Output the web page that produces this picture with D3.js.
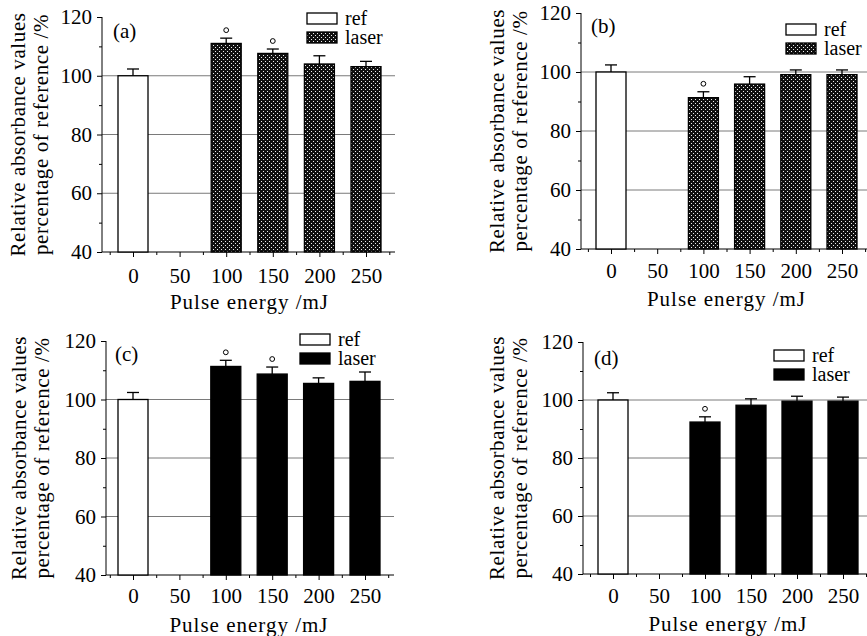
<!DOCTYPE html>
<html>
<head>
<meta charset="utf-8">
<script src="https://cdn.jsdelivr.net/npm/d3@7"></script>
<style>
  body { margin: 0; background: #fff; }
  svg { display: block; font-family: "Liberation Serif", "Times New Roman", serif; }
  .tick line { stroke: #000; }
</style>
</head>
<body>
<svg id="chart" width="867" height="636"></svg>
<script>
// Data
var categories = ['0', '50', '100', '150', '200', '250'];
var seriesNames = ['ref', 'laser'];
var yTicks = [40, 60, 80, 100, 120];
var yMinorTicks = [50, 70, 90, 110];
var gridValues = [60, 80, 100];

// mean value per pulse energy (null = no bar), upper error, significance
var meanA = [100, null, 111.0, 107.6, 104.0, 103.1];
var errA = [2.3, null, 1.8, 1.5, 2.8, 1.8];
var sigA = [0, 0, 1, 1, 0, 0];

var meanB = [100, null, 91.3, 95.9, 99.1, 99.1];
var errB = [2.4, null, 2.0, 2.5, 1.6, 1.6];
var sigB = [0, 0, 1, 0, 0, 0];

var meanC = [100, null, 111.3, 108.7, 105.5, 106.2];
var errC = [2.4, null, 2.1, 2.4, 1.9, 3.2];
var sigC = [0, 0, 1, 1, 0, 0];

var meanD = [100, null, 92.4, 98.2, 99.6, 99.6];
var errD = [2.5, null, 1.8, 2.2, 1.7, 1.4];
var sigD = [0, 0, 1, 0, 0, 0];

var serif = '"Liberation Serif", "Times New Roman", serif';

// Panel layout (pixels)
var panels = [
    {tag: '(a)', mean: meanA, err: errA, sig: sigA, fill: 'url(#dots)',
     axisX: 102, axisEnd: 395, y40: 252, y120: 17, x0: 133, x5: 366,
     labelY: 283, titleY: 309, yl1: 25, yl2: 48, tagX: 113, tagY: 38,
     legX: 307, legY: 13},
    {tag: '(b)', mean: meanB, err: errB, sig: sigB, fill: 'url(#dots)',
     axisX: 581, axisEnd: 870, y40: 249, y120: 13, x0: 611, x5: 842,
     labelY: 278, titleY: 306, yl1: 504, yl2: 527, tagX: 591, tagY: 33,
     legX: 786, legY: 24},
    {tag: '(c)', mean: meanC, err: errC, sig: sigC, fill: '#000',
     axisX: 106, axisEnd: 394, y40: 575, y120: 341, x0: 133, x5: 365,
     labelY: 603, titleY: 632, yl1: 26, yl2: 49, tagX: 115, tagY: 361,
     legX: 300, legY: 334},
    {tag: '(d)', mean: meanD, err: errD, sig: sigD, fill: '#000',
     axisX: 583, axisEnd: 870, y40: 574, y120: 342, x0: 613, x5: 843,
     labelY: 603, titleY: 631, yl1: 504, yl2: 527, tagX: 594, tagY: 365,
     legX: 774, legY: 350}
];

var svg = d3.select('#chart');

// dotted fill used by the laser bars in (a) and (b)
var pat = svg.append('defs').append('pattern')
    .attr('id', 'dots')
    .attr('patternUnits', 'userSpaceOnUse')
    .attr('width', 4).attr('height', 4);
pat.append('rect').attr('width', 4).attr('height', 4).attr('fill', '#111');
pat.append('rect').attr('x', 1).attr('y', 1).attr('width', 1).attr('height', 1).attr('fill', '#eee');
pat.append('rect').attr('x', 3).attr('y', 3).attr('width', 1).attr('height', 1).attr('fill', '#eee');

var barWidth = 30;

// d3 axes put a sans-serif font on their group; use the figure's serif
var styleAxis = function(axisG) {
    axisG.attr('font-family', null).attr('font-size', null);
    axisG.select('.domain').remove();
    axisG.selectAll('.tick text')
        .style('font-family', serif)
        .style('font-size', '21px')
        .attr('fill', '#000');
};

var drawPanel = function(p) {
    var g = svg.append('g');
    var x = d3.scaleLinear().domain([0, categories.length - 1]).range([p.x0, p.x5]);
    var y = d3.scaleLinear().domain([40, 120]).range([p.y40, p.y120]);

    // horizontal reference lines
    g.selectAll('.grid')
        .data(gridValues)
        .enter().append('line')
            .attr('x1', p.axisX).attr('x2', p.axisEnd)
            .attr('y1', function(d) { return y(d); })
            .attr('y2', function(d) { return y(d); })
            .attr('stroke', '#7a7a7a')
            .attr('stroke-width', 1);

    // y axis
    g.append('g')
        .attr('transform', 'translate(' + p.axisX + ',0)')
        .call(d3.axisLeft(y).tickValues(yTicks).tickSize(5).tickPadding(5))
        .call(styleAxis);
    g.append('g')
        .attr('transform', 'translate(' + p.axisX + ',0)')
        .call(d3.axisLeft(y).tickValues(yMinorTicks).tickSize(3).tickFormat(''))
        .call(styleAxis);
    g.append('line')
        .attr('x1', p.axisX).attr('x2', p.axisX)
        .attr('y1', y(40)).attr('y2', y(120))
        .attr('stroke', '#000');

    // x axis
    var idx = d3.range(categories.length);
    var xAxis = g.append('g')
        .attr('transform', 'translate(0,' + p.y40 + ')')
        .call(d3.axisBottom(x).tickValues(idx).tickSize(5)
            .tickFormat(function(i) { return categories[i]; }))
        .call(styleAxis);
    xAxis.selectAll('.tick text').attr('dy', null).attr('y', p.labelY - p.y40);
    var mids = d3.range(-0.5, categories.length, 1);
    g.append('g')
        .attr('transform', 'translate(0,' + p.y40 + ')')
        .call(d3.axisBottom(x).tickValues(mids).tickSize(3).tickFormat(''))
        .call(styleAxis);
    g.append('line')
        .attr('x1', p.axisX).attr('x2', p.axisEnd)
        .attr('y1', p.y40).attr('y2', p.y40)
        .attr('stroke', '#000');

    // bars
    var data = p.mean.map(function(m, i) {
        return {i: i, mean: m, err: p.err[i], sig: p.sig[i]};
    }).filter(function(d) { return d.mean !== null; });

    var bars = g.selectAll('.bar').data(data).enter().append('g');
    bars.append('line')
        .attr('x1', function(d) { return x(d.i); })
        .attr('x2', function(d) { return x(d.i); })
        .attr('y1', function(d) { return y(d.mean); })
        .attr('y2', function(d) { return y(d.mean + d.err); })
        .attr('stroke', '#000').attr('stroke-width', 1.3);
    bars.append('line')
        .attr('x1', function(d) { return x(d.i) - 6; })
        .attr('x2', function(d) { return x(d.i) + 6; })
        .attr('y1', function(d) { return y(d.mean + d.err); })
        .attr('y2', function(d) { return y(d.mean + d.err); })
        .attr('stroke', '#000').attr('stroke-width', 1.3);
    bars.append('rect')
        .attr('x', function(d) { return x(d.i) - barWidth / 2; })
        .attr('y', function(d) { return y(d.mean); })
        .attr('width', barWidth)
        .attr('height', function(d) { return y(40) - y(d.mean); })
        .attr('fill', function(d) { return d.i === 0 ? '#fff' : p.fill; })
        .attr('stroke', '#000')
        .attr('stroke-width', 1.3);

    // significance marks
    g.selectAll('.sig')
        .data(data.filter(function(d) { return d.sig; }))
        .enter().append('circle')
            .attr('cx', function(d) { return x(d.i); })
            .attr('cy', function(d) { return y(d.mean + d.err) - 8; })
            .attr('r', 2.4)
            .attr('fill', '#fff')
            .attr('stroke', '#000')
            .attr('stroke-width', 1);

    // panel tag
    g.append('text')
        .attr('x', p.tagX).attr('y', p.tagY)
        .style('font-size', '21px')
        .text(p.tag);

    // legend
    seriesNames.forEach(function(name, k) {
        var ly = p.legY + k * 19;
        g.append('rect')
            .attr('x', p.legX).attr('y', ly)
            .attr('width', 30).attr('height', 11)
            .attr('fill', k === 0 ? '#fff' : p.fill)
            .attr('stroke', '#000').attr('stroke-width', 1.3);
        g.append('text')
            .attr('x', p.legX + 38).attr('y', ly + 12)
            .style('font-size', '20px')
            .text(name);
    });

    // axis titles
    var midX = (p.x0 + p.x5) / 2;
    g.append('text')
        .attr('x', midX).attr('y', p.titleY)
        .attr('text-anchor', 'middle')
        .style('font-size', '21px')
        .style('letter-spacing', '1px')
        .text('Pulse energy /mJ');
    var midY = (p.y40 + p.y120) / 2;
    [['Relative absorbance values', p.yl1], ['percentage of reference /%', p.yl2]]
        .forEach(function(t) {
            g.append('text')
                .attr('transform', 'translate(' + t[1] + ',' + midY + ') rotate(-90)')
                .attr('text-anchor', 'middle')
                .style('font-size', '21px')
                .style('letter-spacing', '0.6px')
                .text(t[0]);
        });
};

panels.forEach(drawPanel);
</script>
</body>
</html>
